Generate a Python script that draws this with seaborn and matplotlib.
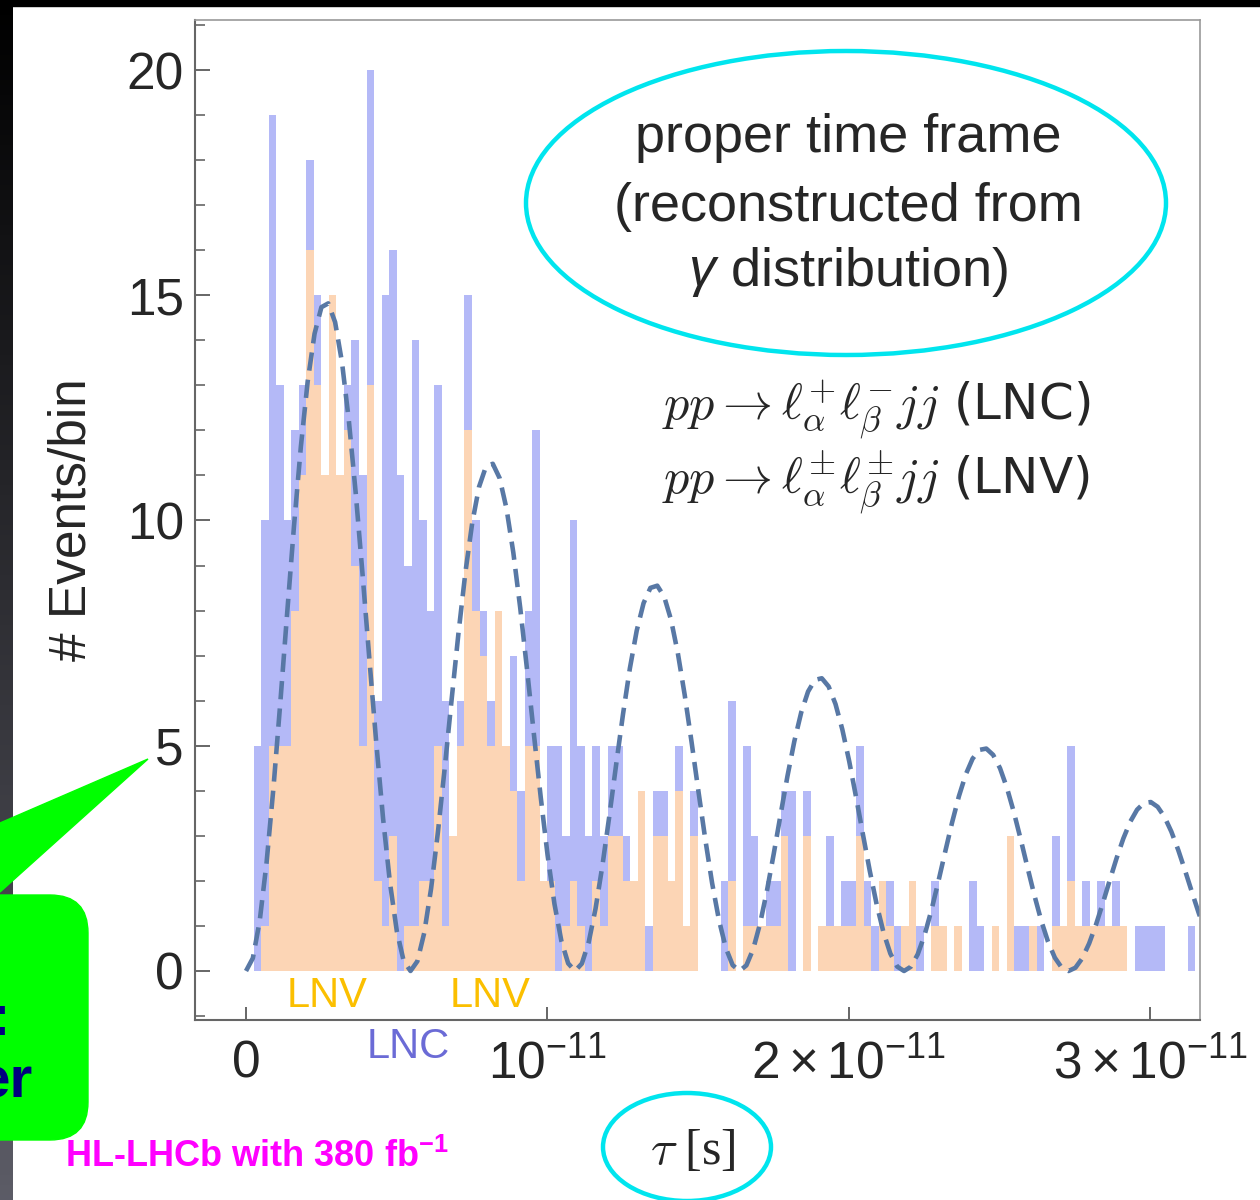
import numpy as np
import pandas as pd
import matplotlib
matplotlib.use("Agg")
import matplotlib.pyplot as plt
import seaborn as sns
from matplotlib.patches import Ellipse, FancyBboxPatch, Polygon, Rectangle
from matplotlib.ticker import MultipleLocator, FixedLocator

# events per bin, bins of 0.025e-11 s starting at 0
lnc_counts = [0, 5, 10, 19, 13, 10, 12, 13, 18, 15,
              11, 15, 11, 13, 14, 11, 20, 6, 15, 16,
              11, 9, 14, 10, 8, 13, 6, 3, 6, 15,
              10, 8, 6, 8, 5, 7, 4, 8, 12, 2,
              5, 5, 3, 10, 5, 3, 5, 3, 5, 5,
              3, 2, 4, 1, 4, 4, 2, 5, 1, 4,
              0, 0, 0, 2, 6, 0, 5, 3, 1, 2,
              2, 4, 4, 0, 4, 0, 1, 3, 1, 2,
              2, 5, 2, 1, 2, 2, 1, 1, 2, 1,
              0, 2, 1, 0, 1, 0, 2, 1, 0, 1,
              0, 3, 1, 1, 1, 1, 0, 3, 1, 5,
              1, 2, 1, 2, 1, 2, 1, 0, 1, 1,
              1, 1, 0, 0, 0, 1]
lnv_counts = [0, 0, 1, 5, 5, 5, 8, 11, 16, 13,
              11, 15, 11, 12, 9, 5, 13, 2, 1, 3,
              0, 1, 1, 2, 2, 5, 1, 3, 5, 12,
              8, 7, 5, 8, 5, 4, 2, 5, 5, 2,
              2, 0, 1, 2, 1, 0, 2, 1, 3, 3,
              2, 2, 4, 0, 3, 3, 2, 4, 1, 3,
              0, 0, 0, 0, 2, 0, 1, 1, 1, 1,
              1, 3, 0, 0, 3, 0, 1, 1, 1, 1,
              1, 3, 1, 0, 2, 1, 0, 1, 2, 0,
              0, 1, 1, 0, 1, 0, 0, 0, 0, 1,
              0, 3, 0, 0, 1, 0, 0, 1, 1, 2,
              1, 1, 1, 1, 1, 1, 1, 0, 0, 0,
              0, 0, 0, 0, 0, 0]
bin_width = 0.025e-11

# dashed oscillation curve, read every 0.02275e-11 s
curve_step = 0.02275e-11
curve_vals = [0, 0.286, 1.113, 2.406, 4.060, 5.950, 7.937, 9.877, 11.636, 13.091, 14.147, 14.735,
              14.820, 14.402, 13.515, 12.223, 10.619, 8.810, 6.919, 5.070, 3.381, 1.958, 0.886, 0.223,
              0, 0.217, 0.846, 1.828, 3.084, 4.520, 6.030, 7.504, 8.840, 9.945, 10.748, 11.194,
              11.259, 10.941, 10.267, 9.286, 8.067, 6.693, 5.256, 3.852, 2.569, 1.487, 0.673, 0.169,
              0, 0.165, 0.642, 1.389, 2.343, 3.434, 4.581, 5.700, 6.716, 7.555, 8.165, 8.504,
              8.553, 8.312, 7.800, 7.055, 6.129, 5.085, 3.993, 2.926, 1.951, 1.130, 0.511, 0.129,
              0, 0.125, 0.488, 1.055, 1.780, 2.609, 3.480, 4.331, 5.102, 5.740, 6.203, 6.461,
              6.498, 6.315, 5.926, 5.359, 4.656, 3.863, 3.034, 2.223, 1.482, 0.859, 0.388, 0.098,
              0, 0.095, 0.371, 0.801, 1.352, 1.982, 2.644, 3.290, 3.876, 4.361, 4.712, 4.908,
              4.937, 4.797, 4.502, 4.071, 3.537, 2.935, 2.305, 1.689, 1.126, 0.652, 0.295, 0.074,
              0, 0.072, 0.282, 0.609, 1.027, 1.506, 2.008, 2.499, 2.944, 3.313, 3.580, 3.729,
              3.750, 3.644, 3.420, 3.093, 2.687, 2.229, 1.751, 1.283, 0.856, 0.495, 0.224, 0.056]

x_ticks = [0, 1e-11, 2e-11, 3e-11]
x_tick_labels = ["0", r"$10^{-11}$", r"$2\times10^{-11}$", r"$3\times10^{-11}$"]

sns.set_style("white")
plt.rcParams['font.family'] = ['Liberation Sans', 'DejaVu Sans']
plt.rcParams['mathtext.fontset'] = 'custom'
plt.rcParams['mathtext.rm'] = 'Liberation Sans'
plt.rcParams['mathtext.it'] = 'Liberation Sans:italic'
plt.rcParams['mathtext.bf'] = 'Liberation Sans:bold'

fig = plt.figure(figsize=(12.6, 12.0), dpi=100)
fig.patch.set_facecolor('white')
ax = fig.add_axes([195 / 1260, 1 - 1020 / 1200, 1005 / 1260, 1000 / 1200])

edges = [i * bin_width for i in range(len(lnc_counts) + 1)]
hist_df = pd.DataFrame({'tau': [e + bin_width / 2 for e in edges[:-1]],
                        'lnc': lnc_counts, 'lnv': lnv_counts})

sns.histplot(data=hist_df, x='tau', weights='lnc', bins=edges, color='#b4b9f7', alpha=1,
             linewidth=0, ax=ax)
sns.histplot(data=hist_df, x='tau', weights='lnv', bins=edges, color='#fcd5b5', alpha=1,
             linewidth=0, ax=ax)

curve_df = pd.DataFrame({'tau': np.arange(len(curve_vals)) * curve_step, 'n': curve_vals})
sns.lineplot(data=curve_df, x='tau', y='n', ax=ax, color='#5878a5', lw=3.3,
             linestyle=(0, (4, 2)), sort=False, estimator=None)

ax.set_xlim(-0.1693e-11, 3.1663e-11)
ax.set_ylim(-1.088, 21.11)

ax.yaxis.set_major_locator(MultipleLocator(5))
ax.yaxis.set_minor_locator(MultipleLocator(1))
ax.xaxis.set_major_locator(FixedLocator(x_ticks))
ax.set_xticklabels(x_tick_labels)

ax.tick_params(axis='y', which='major', direction='in', length=11, width=1.4,
               color='#666666', labelsize=37, pad=8, left=True)
ax.tick_params(axis='y', which='minor', direction='in', length=7, width=1.2,
               color='#666666', left=True)
ax.tick_params(axis='x', which='major', direction='in', length=9.5, width=1.4,
               color='#666666', labelsize=37, pad=14, bottom=True)

for side in ['left', 'bottom']:
    ax.spines[side].set_color('#666666')
    ax.spines[side].set_linewidth(1.5)
for side in ['top', 'right']:
    ax.spines[side].set_color('#999999')
    ax.spines[side].set_linewidth(1.2)

ax.set_xlabel('')
ax.set_ylabel('# Events/bin', fontsize=37)
ax.yaxis.set_label_coords(-0.098, 0.5)

# overlay in pixel coordinates for slide annotations
ov = fig.add_axes([0, 0, 1, 1], zorder=5)
ov.patch.set_alpha(0)
ov.axis('off')

ov.add_patch(Ellipse((846, 203), 640, 304, fill=False, ec='#00e5ee', lw=3.2))
ov.text(848, 138, "proper time frame", ha='center', va='center', fontsize=39)
ov.text(848, 207, "(reconstructed from", ha='center', va='center', fontsize=39)
ov.text(848, 272, r"$\gamma$ distribution)", ha='center', va='center', fontsize=39)

ov.text(662, 410, r"$pp \rightarrow \ell_{\alpha}^{+}\ell_{\beta}^{-}jj$ (LNC)",
        ha='left', va='center', fontsize=36, family='DejaVu Sans', math_fontfamily='cm')
ov.text(662, 483, r"$pp \rightarrow \ell_{\alpha}^{\pm}\ell_{\beta}^{\pm}jj$ (LNV)",
        ha='left', va='center', fontsize=36, family='DejaVu Sans', math_fontfamily='cm')

ov.text(327, 996, "LNV", ha='center', va='center', fontsize=30, color='#fbbf00')
ov.text(490, 996, "LNV", ha='center', va='center', fontsize=30, color='#fbbf00')
ov.text(408, 1047, "LNC", ha='center', va='center', fontsize=30, color='#6b6bd6')

ov.add_patch(Ellipse((687, 1147), 168, 108, fill=False, ec='#00e5ee', lw=3.2))
ov.text(693, 1152, r"$\tau$ [s]", ha='center', va='center', fontsize=36,
        family='Liberation Serif', math_fontfamily='cm')

ov.text(65, 1157, r"HL-LHCb with 380 fb$^{\mathbf{-1}}$", ha='left', va='center',
        fontsize=26, fontweight='bold', color='#ff00ff')

# dark slide edges
grad = np.linspace(0, 1, 240)
strip = np.stack([0.36 * grad, 0.36 * grad, 0.40 * grad], axis=1)[:, None, :]
ov.imshow(strip, extent=[0, 13, 1200, 0], aspect='auto', zorder=1)
ov.add_patch(Rectangle((0, 0), 1260, 6, color='black', zorder=1))

# green callout, lying over the slide edge
ov.add_patch(Polygon([(148, 759), (0, 823), (0, 892)], closed=True, color='#00ff00', zorder=2))
ov.add_patch(FancyBboxPatch((-80, 895), 168, 245, boxstyle='round,pad=0,rounding_size=38',
                            color='#00ff00', zorder=2))
ov.text(10, 1035, ":", ha='right', va='baseline', fontsize=42, fontweight='bold',
        color='#00007f', zorder=3)
ov.text(33, 1098, "er", ha='right', va='baseline', fontsize=42, fontweight='bold',
        color='#00007f', zorder=3)

ov.set_xlim(0, 1260)
ov.set_ylim(1200, 0)

fig.savefig('out.png', dpi=100)
